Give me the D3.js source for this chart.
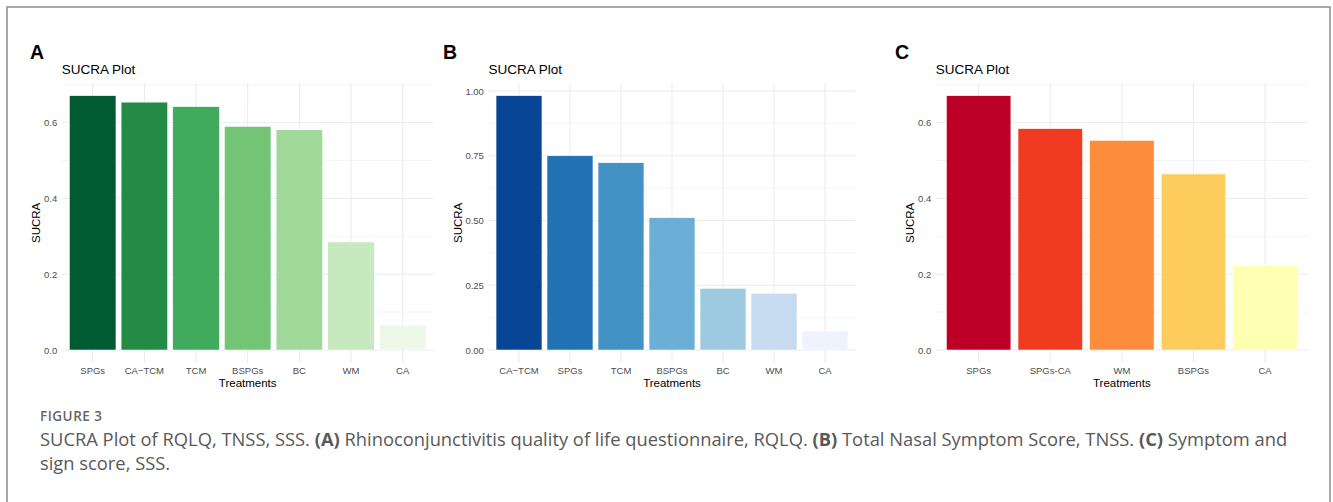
<!DOCTYPE html>
<html>
<head>
<meta charset="utf-8">
<script src="https://cdn.jsdelivr.net/npm/d3@7"></script>
<style>
  body { margin: 0; background: #fff; }
  svg { display: block; }
</style>
</head>
<body>
<div id="chart"></div>
<script>
// data
const treatmentsA = ["SPGs", "CA\u2212TCM", "TCM", "BSPGs", "BC", "WM", "CA"]
const sucraA = [0.671, 0.654, 0.642, 0.590, 0.581, 0.285, 0.065]
const colorsA = ["#005a32", "#238b45", "#41ab5d", "#74c476", "#a1d99b", "#c7e9c0", "#edf8e9"]
const ticksA = [0, 0.2, 0.4, 0.6]

const treatmentsB = ["CA\u2212TCM", "SPGs", "TCM", "BSPGs", "BC", "WM", "CA"]
const sucraB = [0.982, 0.750, 0.723, 0.511, 0.238, 0.219, 0.073]
const colorsB = ["#084594", "#2171b5", "#4292c6", "#6baed6", "#9ecae1", "#c6dbef", "#eff3ff"]
const ticksB = [0, 0.25, 0.5, 0.75, 1]

const treatmentsC = ["SPGs", "SPGs-CA", "WM", "BSPGs", "CA"]
const sucraC = [0.671, 0.584, 0.553, 0.4645, 0.2225]
const colorsC = ["#bd0026", "#f03b20", "#fd8d3c", "#fecc5c", "#ffffb2"]
const ticksC = [0, 0.2, 0.4, 0.6]

const captionHead = "FIGURE 3"
const captionLine1 = [
    ["SUCRA Plot of RQLQ, TNSS, SSS. ", false], ["(A)", true],
    [" Rhinoconjunctivitis quality of life questionnaire, RQLQ. ", false], ["(B)", true],
    [" Total Nasal Symptom Score, TNSS. ", false], ["(C)", true], [" Symptom and", false]
]
const captionLine2 = "sign score, SSS."

const W = 1333, H = 502
const plotFont = "'Liberation Sans', Arial, sans-serif"
const panels = [
    {letter: "A", names: treatmentsA, values: sucraA, colors: colorsA, ticks: ticksA, fmt: ".1f", left: 61.7, right: 433.7, letterX: 30},
    {letter: "B", names: treatmentsB, values: sucraB, colors: colorsB, ticks: ticksB, fmt: ".2f", left: 488.4, right: 855.6, letterX: 443},
    {letter: "C", names: treatmentsC, values: sucraC, colors: colorsC, ticks: ticksC, fmt: ".1f", left: 935.7, right: 1308, letterX: 895},
]
const panelTop = 83, panelBottom = 362.7

const svg = d3.select("#chart").append("svg")
    .attr("width", W)
    .attr("height", H)

// outer frame
svg.append("path")
    .attr("d", `M7,${H} V7 H1330 V${H}`)
    .attr("fill", "none")
    .attr("stroke", "#8c8c8c")
    .attr("stroke-width", 1.5)

panels.forEach(p => drawPanel(p))

function drawPanel(p) {
    const maxV = d3.max(p.values)
    const yScale = d3.scaleLinear()
        .domain([-0.05 * maxV, 1.05 * maxV])
        .range([panelBottom, panelTop])
    const xScale = d3.scaleBand()
        .domain(p.names)
        .range([p.left, p.right])
        .paddingInner(0.1)
        .paddingOuter(0.15)

    const g = svg.append("g")

    // minor gridlines (ggplot style: halfway between majors)
    const step = p.ticks[1] - p.ticks[0]
    const minor = d3.range(p.ticks.length).map(i => p.ticks[i] + step / 2)
        .filter(v => v > yScale.domain()[0] && v < yScale.domain()[1])
    g.selectAll(".minor").data(minor).join("line")
        .attr("x1", p.left).attr("x2", p.right)
        .attr("y1", d => yScale(d)).attr("y2", d => yScale(d))
        .attr("stroke", "#f0f0f0").attr("stroke-width", 0.7)
    g.selectAll(".major").data(p.ticks).join("line")
        .attr("x1", p.left).attr("x2", p.right)
        .attr("y1", d => yScale(d)).attr("y2", d => yScale(d))
        .attr("stroke", "#ebebeb").attr("stroke-width", 1)
    g.selectAll(".vgrid").data(p.names).join("line")
        .attr("x1", d => xScale(d) + xScale.bandwidth() / 2)
        .attr("x2", d => xScale(d) + xScale.bandwidth() / 2)
        .attr("y1", panelTop).attr("y2", panelBottom)
        .attr("stroke", "#ebebeb").attr("stroke-width", 1)

    // bars
    g.selectAll(".bar").data(p.names).join("rect")
        .attr("x", d => xScale(d))
        .attr("width", xScale.bandwidth())
        .attr("y", (d, i) => yScale(p.values[i]))
        .attr("height", (d, i) => yScale(0) - yScale(p.values[i]))
        .attr("fill", (d, i) => p.colors[i])
        .attr("stroke", "#fff")
        .attr("stroke-width", 0.5)

    // axes
    const yAxis = g.append("g")
        .attr("transform", `translate(${p.left},0)`)
        .call(d3.axisLeft(yScale).tickValues(p.ticks).tickFormat(d3.format(p.fmt)).tickSize(0).tickPadding(4.5))
    const xAxis = g.append("g")
        .attr("transform", `translate(0,${panelBottom})`)
        .call(d3.axisBottom(xScale).tickSize(0).tickPadding(4.5))
    ;[xAxis, yAxis].forEach(a => {
        a.select(".domain").remove()
        a.selectAll("text")
            .attr("fill", "#4d4d4d")
            .style("font-family", plotFont)
            .style("font-size", "9.5px")
    })

    // titles
    g.append("text")
        .attr("x", p.letterX).attr("y", 59)
        .style("font-family", plotFont).style("font-size", "19.5px").style("font-weight", "bold")
        .text(p.letter)
    g.append("text")
        .attr("x", p.left).attr("y", 74)
        .style("font-family", plotFont).style("font-size", "13.5px")
        .text("SUCRA Plot")
    g.append("text")
        .attr("x", (p.left + p.right) / 2).attr("y", 387)
        .attr("text-anchor", "middle")
        .style("font-family", plotFont).style("font-size", "11.5px")
        .text("Treatments")
    const labelLeft = yAxis.node().getBBox().x + p.left
    g.append("text")
        .attr("transform", `translate(${labelLeft - 3.5},${(panelTop + panelBottom) / 2}) rotate(-90)`)
        .attr("text-anchor", "middle")
        .style("font-family", plotFont).style("font-size", "11.5px")
        .text("SUCRA")
}

// caption
const capFont = "'Open Sans', Lato, sans-serif"
svg.append("text")
    .attr("x", 40).attr("y", 421)
    .attr("fill", "#666")
    .style("font-family", capFont).style("font-size", "13.5px").style("font-weight", 600)
    .style("letter-spacing", "0.5px")
    .text(captionHead)
const line1 = svg.append("text")
    .attr("x", 40).attr("y", 446)
    .attr("fill", "#595959")
    .style("font-family", capFont).style("font-size", "17px")
line1.selectAll("tspan").data(captionLine1).join("tspan")
    .style("font-weight", d => d[1] ? "bold" : "normal")
    .text(d => d[0])
// fit the first line to the column width of the original layout
const fitSize = 17 * (1288 - 40) / line1.node().getComputedTextLength()
line1.style("font-size", fitSize + "px")
svg.append("text")
    .attr("x", 40).attr("y", 470)
    .attr("fill", "#595959")
    .style("font-family", capFont).style("font-size", fitSize + "px")
    .text(captionLine2)
</script>
</body>
</html>
